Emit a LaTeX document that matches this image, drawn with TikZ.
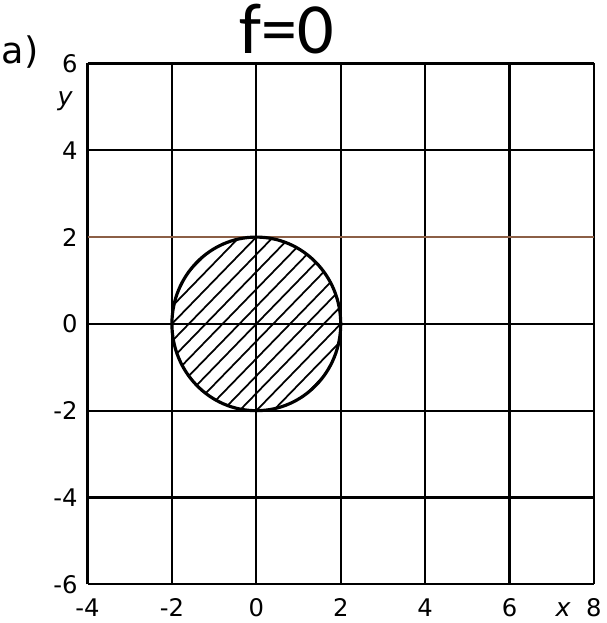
\documentclass[tikz,border=0pt]{standalone}
\usepackage{fontspec}
\usepackage{tikz}
\newfontfamily\titlefont{Carlito}
\newfontfamily\labelfont{DejaVu Sans}
\definecolor{scanBrown}{RGB}{140, 95, 70}

\tikzset{
  ticklabel/.style={font=\labelfont\fontsize{6.9}{8}\selectfont, inner sep=0pt},
  axisname/.style={font=\labelfont\itshape\fontsize{7.2}{8}\selectfont, inner sep=0pt},
  gridline/.style={line width=0.6pt},
  hatchline/.style={line width=0.5pt},
}

\begin{document}
\begin{tikzpicture}[x=0.422cm, y=0.434cm]
        \useasboundingbox (-6.074,-6.892) rectangle (8.287,7.463);
        % grid, one line every 2 units
        \foreach \x in {-4,-2,...,8}
          \draw[gridline] (\x,-6) -- (\x,6);
        \foreach \y in {-6,-4,-2,0,4,6}
          \draw[gridline] (-4,\y) -- (8,\y);
        % line at y=2 is brownish in the scan
        \draw[gridline, scanBrown] (-4,2) -- (8,2);
        % hatched disc, radius 2 about the origin
        \begin{scope}
          \clip (0,0) circle (2);
          \foreach \k in {-7,...,7}
            \draw[hatchline] (\k*0.4-3,-3) -- (\k*0.4+3,3);
        \end{scope}
        \draw[line width=0.9pt] (0,0) circle (2);
        % tick labels
        \foreach \y [count=\i] in {-6,-4,...,6}
          \node[ticklabel, anchor=east] (yt\i) at (-4.22,\y) {\y};
        \foreach \x [count=\i] in {-4,-2,...,6}
          \node[ticklabel, anchor=base] (xt\i) at (\x,-6.75) {\x};
        \node[ticklabel, anchor=base] (xt7) at (8,-6.75) {8};
        \node[axisname, anchor=base] (xname) at (7.27,-6.75) {x};
        \node[axisname, anchor=base] (yname) at (-4.53,5.04) {y};
        % panel letter and title
        \node[font=\labelfont\fontsize{10.4}{12}\selectfont, inner sep=0pt, anchor=base] (panel) at (-5.60,6.01) {a)};
        \node[font=\titlefont\fontsize{20.5}{24}\selectfont, inner sep=0pt, anchor=base] (title) at (0.72,6.24) {f=0};
      \end{tikzpicture}
\end{document}
